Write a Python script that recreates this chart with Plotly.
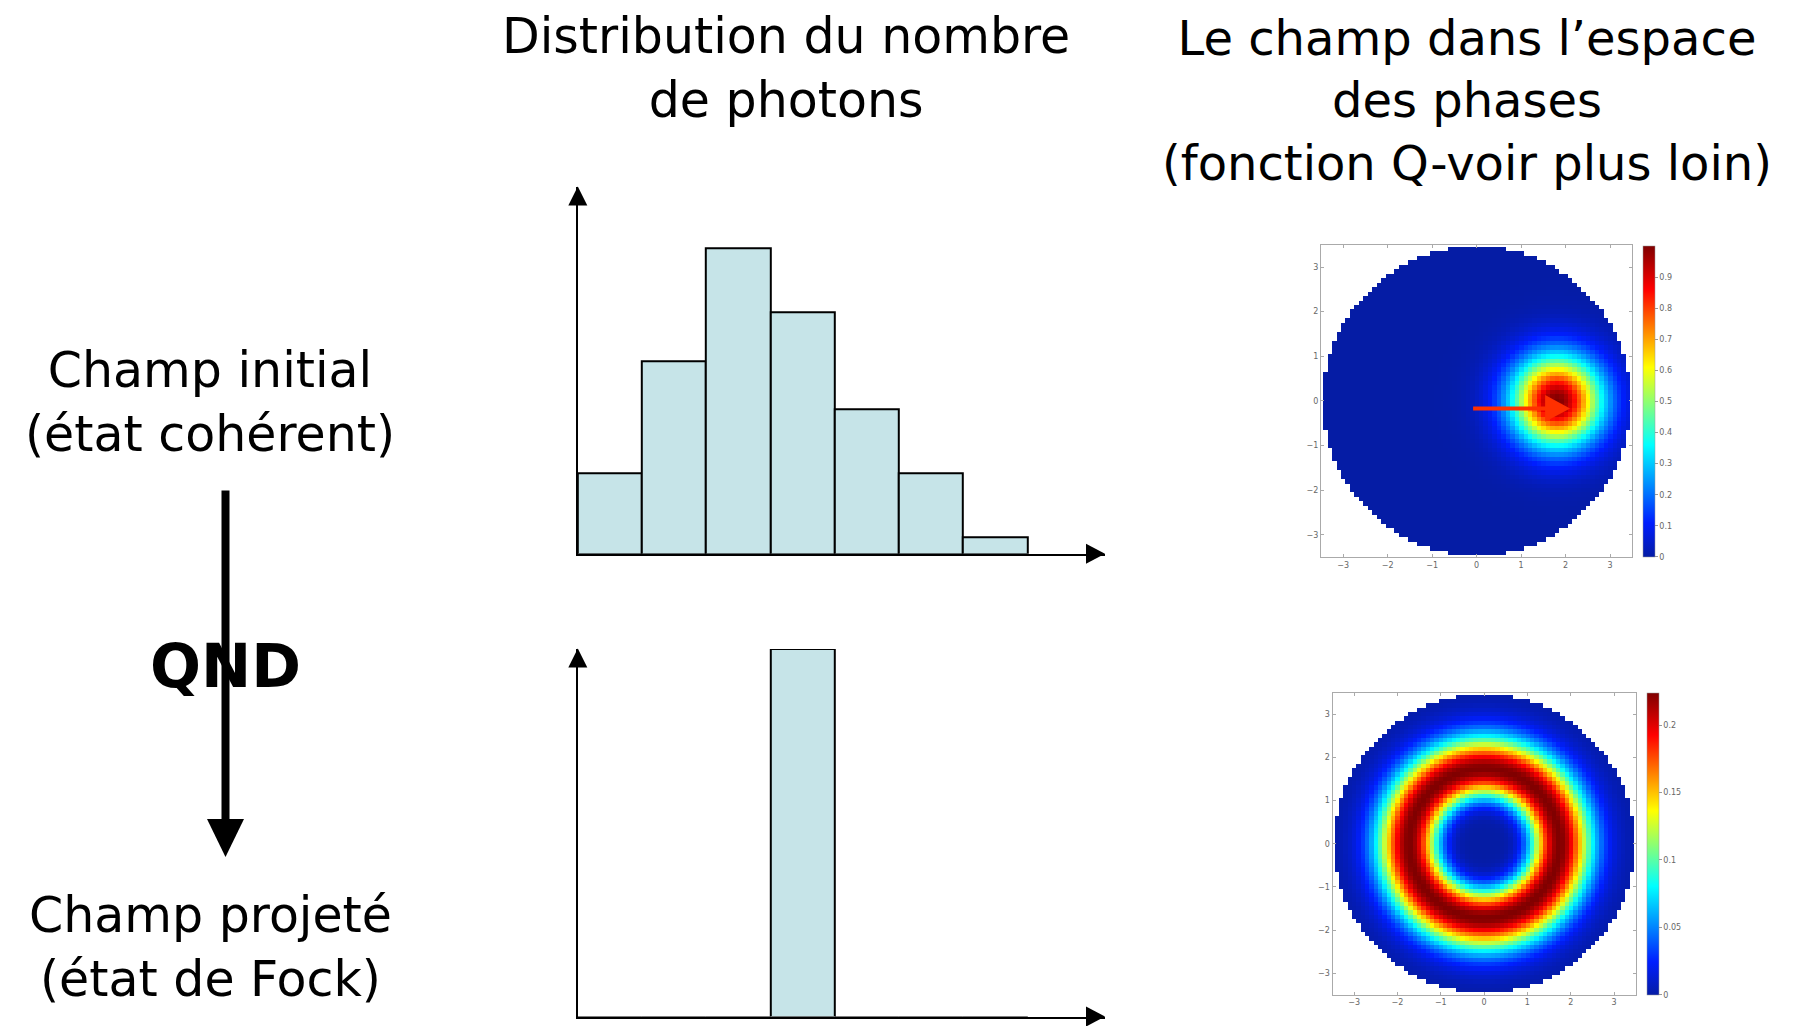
import math
import numpy as np
import plotly.graph_objects as go

# ---- data -------------------------------------------------------------
photon_number = [0, 1, 2, 3, 4, 5, 6]
coherent_counts = [5, 12, 19, 15, 9, 5, 1]      # initial field (coherent state)
fock_counts = [0, 0, 0, 1, 0, 0, 0]             # projected field (Fock state n=3)

coherent_amplitude = 1.8     # alpha_0 of the coherent state (real axis)
fock_number = 3              # photon number of the projected state
disk_radius = 3.46           # phase-space region that is computed
grid_step = 0.1

axis_ticks = [-3, -2, -1, 0, 1, 2, 3]
cbar_ticks_top = [0, 0.1, 0.2, 0.3, 0.4, 0.5, 0.6, 0.7, 0.8, 0.9]
cbar_ticks_bottom = [0, 0.05, 0.1, 0.15, 0.2]

# ---- page geometry helpers (pixels -> paper) ----------------------------
W, H = 1801, 1026


def px(x):
    return x / W


def py(y):
    return 1 - y / H


# ---- Husimi Q functions on a square grid, limited to a disk -------------
quad = np.round(np.arange(-35, 36) * grid_step, 2)
X, Y = np.meshgrid(quad, quad)
R2 = X ** 2 + Y ** 2
inside = R2 <= disk_radius ** 2

q_coherent = np.exp(-((X - coherent_amplitude) ** 2 + Y ** 2))
q_fock = R2 ** fock_number * np.exp(-R2) / math.factorial(fock_number)
q_coherent = np.where(inside, q_coherent, np.nan)
q_fock = np.where(inside, q_fock, np.nan)

jet = [
    [0.0, "rgb(5,28,165)"],
    [0.11, "rgb(0,30,255)"],
    [0.36, "rgb(0,255,255)"],
    [0.61, "rgb(255,255,0)"],
    [0.86, "rgb(255,0,0)"],
    [1.0, "rgb(128,0,0)"],
]

BAR_FILL = "#c6e4e8"
TEXT_FONT = "DejaVu Sans"

fig = go.Figure()

# photon-number histograms
fig.add_trace(go.Bar(x=photon_number, y=coherent_counts, width=1,
                     marker=dict(color=BAR_FILL, line=dict(color="black", width=2)),
                     xaxis="x", yaxis="y", hoverinfo="skip"))
fig.add_trace(go.Bar(x=photon_number, y=fock_counts, width=1,
                     marker=dict(color=BAR_FILL, line=dict(color="black", width=2)),
                     xaxis="x2", yaxis="y2", hoverinfo="skip"))


def cbar(ticks, x_left, y_top, y_bot):
    return dict(
        x=px(x_left), xanchor="left", y=py((y_top + y_bot) / 2), yanchor="middle",
        len=(y_bot - y_top) / H, lenmode="fraction",
        thickness=12, thicknessmode="pixels", xpad=0, ypad=0,
        outlinewidth=0.5, outlinecolor="#999999",
        tickvals=ticks, ticktext=[f"{t:g}" for t in ticks],
        ticks="outside", ticklen=3, tickcolor="#999999",
        tickfont=dict(size=8, color="#666666", family="DejaVu Sans"),
    )


fig.add_trace(go.Heatmap(x=quad, y=quad, z=q_coherent, colorscale=jet, zsmooth=False,
                         xaxis="x3", yaxis="y3", hoverinfo="skip",
                         colorbar=cbar(cbar_ticks_top, 1642.7, 245.8, 557.0)))
fig.add_trace(go.Heatmap(x=quad, y=quad, z=q_fock, colorscale=jet, zsmooth=False,
                         xaxis="x4", yaxis="y4", hoverinfo="skip",
                         colorbar=cbar(cbar_ticks_bottom, 1647.0, 692.7, 994.8)))

# ---- axes ---------------------------------------------------------------
hist_x = dict(range=[-0.5, 7.71], showline=True, linewidth=2, linecolor="black",
              showgrid=False, zeroline=False, showticklabels=False, ticks="",
              domain=[px(577.8), px(1105)])
hist_y = dict(showline=True, linewidth=2, linecolor="black", showgrid=False,
              zeroline=False, showticklabels=False, ticks="")

phase_axis = dict(range=[-3.5, 3.5], showline=True, mirror="ticks", linewidth=1,
                  linecolor="#aaaaaa", ticks="inside", ticklen=3, tickcolor="#aaaaaa",
                  tickvals=axis_ticks, showgrid=False, zeroline=False,
                  tickfont=dict(size=8, color="#666666", family="DejaVu Sans"))

fig.update_layout(
    xaxis=dict(hist_x, anchor="y"),
    yaxis=dict(hist_y, anchor="x", range=[0, 22.79], domain=[py(553.7), py(187.2)]),
    xaxis2=dict(hist_x, anchor="y2"),
    yaxis2=dict(hist_y, anchor="x2", range=[0, 1.0], domain=[py(1016.6), py(649)]),
    xaxis3=dict(phase_axis, anchor="y3", domain=[px(1321), px(1632.3)]),
    yaxis3=dict(phase_axis, anchor="x3", domain=[py(557), py(244.7)]),
    xaxis4=dict(phase_axis, anchor="y4", domain=[px(1332.5), px(1635.7)]),
    yaxis4=dict(phase_axis, anchor="x4", domain=[py(994.8), py(692.7)]),
)

# ---- arrows -------------------------------------------------------------
shapes = []


def triangle(tip, direction, length, half):
    tx, ty = tip
    if direction == "up":
        pts = [(tx, ty), (tx - half, ty + length), (tx + half, ty + length)]
    elif direction == "down":
        pts = [(tx, ty), (tx - half, ty - length), (tx + half, ty - length)]
    else:  # right
        pts = [(tx, ty), (tx - length, ty - half), (tx - length, ty + half)]
    path = "M " + " L ".join(f"{px(a):.5f},{py(b):.5f}" for a, b in pts) + " Z"
    return dict(type="path", path=path, xref="paper", yref="paper",
                fillcolor="black", line=dict(width=0))


shapes += [
    triangle((577.8, 186.5), "up", 19, 9.5),
    triangle((1105, 553.7), "right", 19, 10),
    triangle((577.8, 648.5), "up", 19, 9.5),
    triangle((1105, 1016.6), "right", 19, 10),
]

# QND transition arrow
shapes.append(dict(type="line", xref="paper", yref="paper",
                   x0=px(225.5), y0=py(490.5), x1=px(225.5), y1=py(825),
                   line=dict(color="black", width=8)))
shapes.append(triangle((225.5, 857), "down", 38, 18.5))

# coherent amplitude vector in phase space
ARROW_RED = "#ff3000"
shapes.append(dict(type="line", xref="x3", yref="y3", x0=-0.08, y0=-0.17, x1=1.6, y1=-0.17,
                   line=dict(color=ARROW_RED, width=4)))
shapes.append(dict(type="path", xref="x3", yref="y3",
                   path="M 1.54,-0.47 L 2.10,-0.17 L 1.54,0.13 Z",
                   fillcolor=ARROW_RED, line=dict(width=0)))

# ---- text ---------------------------------------------------------------
def label(text, x, y, size=48, bold=False):
    return dict(text=f"<b>{text}</b>" if bold else text, x=px(x), y=py(y),
                xref="paper", yref="paper", xanchor="center", yanchor="middle",
                showarrow=False, align="center",
                font=dict(family=TEXT_FONT, size=size, color="black"))


annotations = [
    label("Distribution du nombre<br>de photons", 786, 68.4, size=49),
    label("Le champ dans l’espace<br>des phases<br>(fonction Q-voir plus loin)", 1467, 100.5),
    label("Champ initial<br>(état cohérent)", 210, 402.5, size=49),
    label("Champ projeté<br>(état de Fock)", 210, 947, size=49),
    label("QND", 225.5, 666, size=60, bold=True),
]

fig.update_layout(
    width=W, height=H, autosize=False,
    margin=dict(l=0, r=0, t=0, b=0),
    paper_bgcolor="white", plot_bgcolor="white",
    showlegend=False, bargap=0,
    shapes=shapes, annotations=annotations,
)

fig.write_html("out.html")
